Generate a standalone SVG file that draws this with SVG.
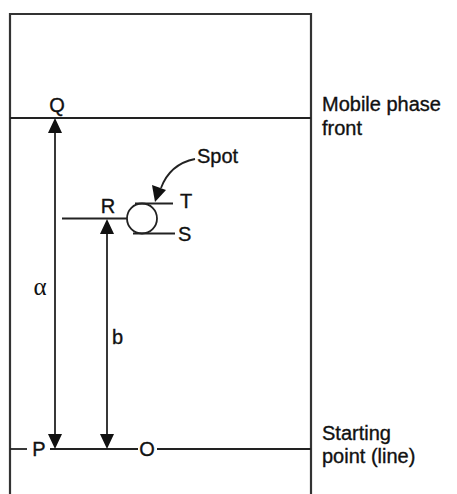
<svg xmlns="http://www.w3.org/2000/svg" width="457" height="494" viewBox="0 0 457 494">
<defs>
<style>
.ln{stroke:#222;stroke-width:1.8;fill:none}
.bx{stroke:#333;stroke-width:2.2;fill:none}
.tx{font-family:"Liberation Sans",Arial,sans-serif;font-size:20px;fill:#111;stroke:#111;stroke-width:0.35}
.ah{fill:#111}
</style>
</defs>
<rect width="457" height="494" fill="#fff"/>
<g id="plate">
<path class="bx" d="M10,494 V14 H311 V494"/>
</g>
<g id="connectors">
<line class="ln" x1="10" y1="118" x2="311" y2="118"/>
<line class="ln" x1="10" y1="449" x2="27" y2="449"/>
<line class="ln" x1="50" y1="449" x2="138" y2="449"/>
<line class="ln" x1="157" y1="449" x2="311" y2="449"/>
<line class="ln" x1="62" y1="218.5" x2="127" y2="218.5"/>
<line class="ln" x1="55" y1="130" x2="55" y2="436"/>
<path class="ah" d="M55,118 L48,133 L62,133 Z"/>
<path class="ah" d="M55,449 L48,434 L62,434 Z"/>
<line class="ln" x1="107" y1="231" x2="107" y2="436"/>
<path class="ah" d="M107,219 L100,234 L114,234 Z"/>
<path class="ah" d="M107,449 L100,434 L114,434 Z"/>
<path class="ln" d="M195,159 Q170,164 161,188"/>
<path class="ah" d="M155,202 L152,185 L166,190 Z"/>
</g>
<g id="spot">
<circle class="ln" cx="142" cy="218.5" r="15"/>
<line class="ln" x1="135" y1="203.5" x2="173" y2="203.5"/>
<line class="ln" x1="133" y1="233.5" x2="175" y2="233.5"/>
</g>
<g id="labels">
<text class="tx" x="57" y="112" text-anchor="middle">Q</text>
<text class="tx" x="108" y="213" text-anchor="middle">R</text>
<text class="tx" x="180" y="208">T</text>
<text class="tx" x="178" y="241">S</text>
<text class="tx" x="197" y="163">Spot</text>
<text class="tx" x="39" y="456" text-anchor="middle">P</text>
<text class="tx" x="147" y="456" text-anchor="middle">O</text>
<text x="40" y="295" text-anchor="middle" style="font-family:'Liberation Serif',serif;font-size:25px;fill:#111">α</text>
<text class="tx" x="112" y="344">b</text>
<text class="tx" x="322" y="111">Mobile phase</text>
<text class="tx" x="322" y="135">front</text>
<text class="tx" x="322" y="440">Starting</text>
<text class="tx" x="322" y="463">point (line)</text>
</g>
</svg>
